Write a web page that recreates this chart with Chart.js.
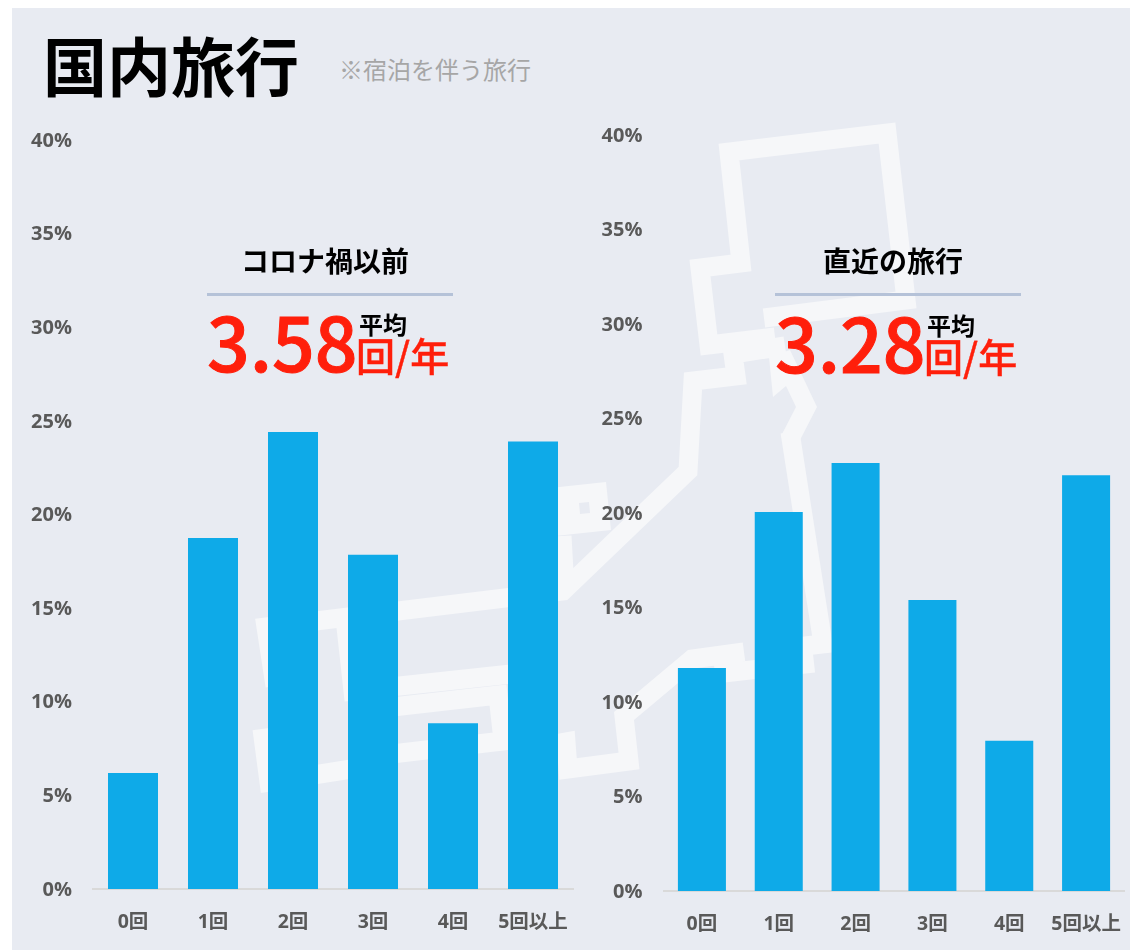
<!DOCTYPE html>
<html lang="ja">
<head>
<meta charset="utf-8">
<title>国内旅行</title>
<script src="https://cdn.jsdelivr.net/npm/chart.js@4"></script>
<style>
  html, body { margin: 0; padding: 0; background: #fff; }
  body { width: 1130px; height: 950px; position: relative; overflow: hidden; font-family: "Noto Sans CJK JP", sans-serif; }
  #panel { position: absolute; left: 12px; top: 8px; width: 1118px; height: 942px; background: #e8ebf2; }
  #map { position: absolute; left: 0; top: 0; }
  canvas { position: absolute; }
  .t { position: absolute; line-height: 1; white-space: nowrap; }
  .rule { position: absolute; height: 3px; width: 246px; background: #b5c2d8; }
  .red { color: #ff1f0b; font-weight: 500; -webkit-text-stroke: 0.4px #ff1f0b; }
  .big { font-size: 75px; -webkit-text-stroke: 1px #ff1f0b; }
</style>
</head>
<body>
<div id="panel"></div>

<!-- faint japan outline behind the charts -->
<svg id="map" width="1130" height="950">
  <g fill="none" stroke="#f6f7f9" stroke-width="19" stroke-linejoin="miter" stroke-miterlimit="6">
    <polyline points="764,318 906,300 887,133 729,152 741,263 700,268 709,345 775,337"/>
    <polyline points="785,346 733,354 736,376 693,381 688,471 563,591 266,627 275,686"/>
    <polyline points="345,618 353,691 520,673"/>
    <polyline points="562,536 565,590"/>
    <polyline points="375,709 498,695 503,741 375,756"/>
    <polyline points="262,729 269,782 370,766"/>
    <polyline points="510,752 566,742 568,769 629,761 624,716 692,659 744,652"/>
    <polyline points="715,674 814,663"/>
    <polyline points="790,432 823,644 770,650"/>
  </g>
  <polygon fill="#f6f7f9" points="769,357 773,397 786,386 796,407 781,436 800,440 817,407 790,350"/>
  <path fill="#f6f7f9" fill-rule="evenodd" d="M550,488 L606,482 L611,530 L555,536 Z M579,503 L589,502 L590,513 L580,514 Z"/>
</svg>

<canvas id="before" width="565" height="840" style="left:12px;top:100px"></canvas>
<canvas id="recent" width="553" height="840" style="left:577px;top:100px"></canvas>

<div class="t" style="left:43px;top:31px;font-size:64px;font-weight:700;color:#000">国内旅行</div>
<div class="t" style="left:339px;top:57px;font-size:24px;color:#a6a6a6">※宿泊を伴う旅行</div>

<div class="t" style="left:241px;top:246px;font-size:28px;font-weight:700;color:#000">コロナ禍以前</div>
<div class="rule" style="left:207px;top:293px"></div>
<div class="t red big" style="left:207px;top:302px">3.58</div>
<div class="t" style="left:359px;top:312px;font-size:24px;font-weight:700;color:#000">平均</div>
<div class="t red" style="left:356px;top:335px;font-size:39px">回/年</div>

<div class="t" style="left:823px;top:246px;font-size:28px;font-weight:700;color:#000">直近の旅行</div>
<div class="rule" style="left:775px;top:293px"></div>
<div class="t red big" style="left:775px;top:303px">3.28</div>
<div class="t" style="left:927px;top:313px;font-size:24px;font-weight:700;color:#000">平均</div>
<div class="t red" style="left:924px;top:336px;font-size:39px">回/年</div>

<script>
const categories = ['0回', '1回', '2回', '3回', '4回', '5回以上'];
const beforeValues = [6.2, 18.75, 24.4, 17.85, 8.85, 23.9];
const recentValues = [11.8, 20.05, 22.65, 15.4, 7.95, 22.0];

const labelFont = '"Open Sans", "Noto Sans CJK JP", sans-serif';

function drawChart(id, values, pad, yWidth, xHeight) {
  return new Chart(document.getElementById(id), {
    type: 'bar',
    data: {
      labels: categories,
      datasets: [{
        data: values,
        backgroundColor: '#0eaae8',
        barPercentage: 0.625,
        categoryPercentage: 1,
      }],
    },
    options: {
      responsive: false,
      animation: false,
      layout: { padding: pad, autoPadding: false },
      plugins: { legend: { display: false }, tooltip: { enabled: false } },
      scales: {
        x: {
          grid: { display: false, drawTicks: false },
          border: { color: '#d9d9d9', width: 2 },
          ticks: {
            color: '#595959',
            padding: 22,
            autoSkip: false,
            maxRotation: 0,
            font: { family: labelFont, size: 19.5, weight: 700 },
          },
          afterFit: (s) => {
            s.height = xHeight;
            // long last label must not shrink the plot
            s.paddingLeft = 0;
            s.paddingRight = 0;
          },
        },
        y: {
          min: 0,
          max: 40,
          grid: { display: false, drawTicks: false },
          border: { display: false },
          ticks: {
            stepSize: 5,
            color: '#595959',
            padding: 21,
            labelOffset: 1,
            callback: (v) => v + '%',
            font: { family: labelFont, size: 20, weight: 700 },
          },
          afterFit: (s) => { s.width = yWidth; },
        },
      },
    },
  });
}

drawChart('before', beforeValues, { top: 40, right: 4, bottom: 0, left: 0 }, 81, 51);
drawChart('recent', recentValues, { top: 35, right: 5.5, bottom: 0, left: 0 }, 86.5, 49);
</script>
</body>
</html>
